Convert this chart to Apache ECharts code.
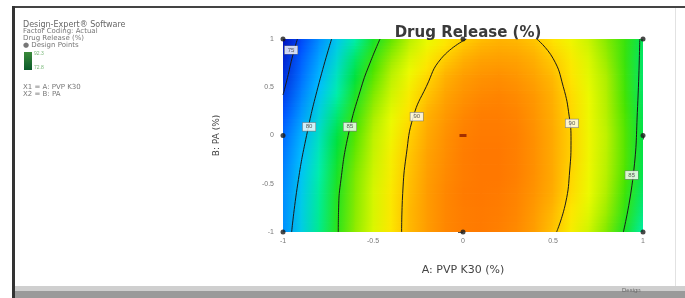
<!DOCTYPE html>
<html>
<head>
<meta charset="utf-8">
<script src="https://cdn.jsdelivr.net/npm/echarts@6/dist/echarts.min.js"></script>
<style>
  html, body { margin: 0; padding: 0; background: #fff; }
  #chart { width: 685px; height: 298px; }
</style>
</head>
<body>
<div id="chart"></div>
<script>
// coded factor levels (grid nodes) and axis ticks
var factorA = [-1, -0.9, -0.8, -0.7, -0.6, -0.5, -0.4, -0.3, -0.2, -0.1, 0, 0.1, 0.2, 0.3, 0.4, 0.5, 0.6, 0.7, 0.8, 0.9, 1];
var factorB = [-1, -0.8, -0.6, -0.4, -0.2, 0, 0.2, 0.4, 0.6, 0.8, 1];

// drug release (%), one row per B level (bottom to top)
var release = [
  [78.3, 80.7, 82.9, 84.9, 86.6, 88.1, 89.4, 90.4, 91.2, 91.8, 92.1, 92.2, 92.0, 91.7, 91.1, 90.2, 89.1, 87.8, 86.3, 84.5, 82.5],
  [78.2, 80.7, 82.8, 84.8, 86.5, 88.0, 89.3, 90.4, 91.2, 91.8, 92.1, 92.2, 92.1, 91.8, 91.2, 90.4, 89.4, 88.2, 86.7, 85.0, 83.0],
  [78.1, 80.5, 82.7, 84.7, 86.4, 88.0, 89.3, 90.3, 91.2, 91.8, 92.2, 92.3, 92.2, 91.9, 91.4, 90.7, 89.7, 88.5, 87.0, 85.3, 83.4],
  [77.8, 80.3, 82.5, 84.5, 86.3, 87.8, 89.1, 90.2, 91.1, 91.7, 92.1, 92.3, 92.3, 92.0, 91.5, 90.8, 89.8, 88.6, 87.2, 85.6, 83.7],
  [77.4, 79.9, 82.2, 84.2, 86.0, 87.6, 89.0, 90.1, 91.0, 91.6, 92.1, 92.3, 92.3, 92.0, 91.5, 90.8, 89.9, 88.7, 87.3, 85.7, 83.8],
  [76.9, 79.5, 81.8, 83.9, 85.7, 87.4, 88.7, 89.9, 90.8, 91.5, 92.0, 92.2, 92.2, 92.0, 91.5, 90.8, 89.9, 88.7, 87.4, 85.7, 83.9],
  [76.1, 78.7, 81.1, 83.3, 85.2, 86.9, 88.4, 89.6, 90.6, 91.3, 91.8, 92.1, 92.1, 91.9, 91.4, 90.7, 89.8, 88.6, 87.2, 85.6, 83.7],
  [75.1, 77.9, 80.4, 82.6, 84.6, 86.4, 87.9, 89.2, 90.2, 91.0, 91.5, 91.8, 91.9, 91.7, 91.3, 90.6, 89.7, 88.5, 87.1, 85.4, 83.5],
  [74.3, 77.1, 79.7, 82.0, 84.0, 85.8, 87.4, 88.7, 89.8, 90.6, 91.2, 91.5, 91.6, 91.4, 91.0, 90.4, 89.5, 88.3, 87.0, 85.3, 83.4],
  [73.7, 76.5, 79.0, 81.3, 83.4, 85.2, 86.7, 88.1, 89.2, 90.0, 90.6, 91.0, 91.1, 91.0, 90.6, 90.0, 89.2, 88.1, 86.7, 85.2, 83.4],
  [72.8, 75.6, 78.2, 80.5, 82.5, 84.4, 85.9, 87.3, 88.4, 89.3, 89.9, 90.3, 90.5, 90.4, 90.1, 89.5, 88.7, 87.7, 86.4, 85.2, 83.6]
];

// contour lines [A, B]
var contour75 = [[-0.92, 1], [-0.95, 0.8], [-0.975, 0.6], [-1, 0.42]];
var contour80 = [[-0.952, -1], [-0.918, -0.5], [-0.869, 0], [-0.806, 0.5], [-0.73, 1]];
var contour85L = [[-0.693, -1], [-0.691, -0.75], [-0.681, -0.5], [-0.638, 0], [-0.565, 0.5], [-0.517, 0.75], [-0.461, 1]];
var contour90L = [[-0.341, -1], [-0.335, -0.6], [-0.315, -0.2], [-0.276, 0.195], [-0.204, 0.506], [-0.12, 0.8], [0.019, 1]];
var contour90R = [[0.41, 1], [0.5, 0.8], [0.557, 0.506], [0.59, 0.2], [0.6, -0.05], [0.593, -0.358], [0.57, -0.7], [0.52, -1]];
var contour85R = [[0.891, -1], [0.946, -0.41], [0.97, 0.3], [0.982, 1]];
var contourLabels = [[-0.955, 0.886, '75'], [-0.855, 0.09, '80'], [-0.628, 0.09, '85'], [-0.257, 0.195, '90'], [0.605, 0.126, '90'], [0.937, -0.41, '85']];

// design points
var designPoints = [[-1, -1], [0, -1], [1, -1], [1, 0], [1, 1], [-1, 1], [-1, 0], [0, 1]];
var centerPoint = [[0, 0]];

// colour ramp (value, rgb)
var stops = [
  [72, [0, 0, 170]], [76, [0, 80, 255]], [80, [0, 190, 255]], [82.5, [0, 238, 170]],
  [84, [0, 225, 60]], [85.5, [70, 228, 0]], [87, [170, 238, 0]], [88.5, [235, 250, 0]],
  [89.5, [255, 228, 0]], [90.5, [255, 180, 0]], [92, [255, 128, 0]], [93, [255, 100, 0]]
];
function colorOf(v) {
  var c = stops[stops.length - 1][1];
  if (v <= stops[0][0]) c = stops[0][1];
  for (var i = 1; i < stops.length; i++) {
    if (v > stops[i - 1][0] && v <= stops[i][0]) {
      var t = (v - stops[i - 1][0]) / (stops[i][0] - stops[i - 1][0]);
      var a = stops[i - 1][1], b = stops[i][1];
      c = [a[0] + (b[0] - a[0]) * t, a[1] + (b[1] - a[1]) * t, a[2] + (b[2] - a[2]) * t];
      break;
    }
  }
  return 'rgb(' + Math.round(c[0]) + ',' + Math.round(c[1]) + ',' + Math.round(c[2]) + ')';
}

// one cell between neighbouring grid nodes
var cells = [];
for (var j = 0; j < factorB.length - 1; j++) {
  for (var i = 0; i < factorA.length - 1; i++) {
    cells.push([factorA[i], factorA[i + 1], factorB[j], factorB[j + 1],
      release[j][i], release[j][i + 1], release[j + 1][i], release[j + 1][i + 1]]);
  }
}

function contourSeries(pts) {
  return {
    type: 'line', data: pts, smooth: true, symbol: 'none', silent: true,
    lineStyle: { color: '#1a1a1a', width: 1 }, z: 3
  };
}

var chart = echarts.init(document.getElementById('chart'));
var option = {
  animation: false,
  title: {
    text: 'Drug Release (%)', left: 463, top: 21, textAlign: 'center',
    textStyle: { fontFamily: 'DejaVu Sans', fontSize: 15, fontWeight: 'bold', color: '#3a3a3a' }
  },
  grid: { left: 283, right: 42, top: 39, bottom: 66 },
  xAxis: {
    type: 'value', min: -1, max: 1, interval: 0.5,
    name: 'A: PVP K30 (%)', nameLocation: 'middle', nameGap: 33,
    nameTextStyle: { fontFamily: 'DejaVu Sans', fontSize: 11, color: '#444' },
    axisLine: { show: false }, splitLine: { show: false },
    axisTick: { show: true, length: 4, lineStyle: { color: '#555' } },
    axisLabel: { fontSize: 7, color: '#777', margin: 6 }
  },
  yAxis: {
    type: 'value', min: -1, max: 1, interval: 0.5,
    name: 'B: PA (%)', nameLocation: 'middle', nameGap: 62,
    nameTextStyle: { fontFamily: 'DejaVu Sans', fontSize: 9, color: '#444' },
    axisLine: { show: false }, splitLine: { show: false },
    axisTick: { show: true, length: 5, lineStyle: { color: '#555' } },
    axisLabel: { fontSize: 7, color: '#777', margin: 9 }
  },
  series: [
    {
      type: 'custom', data: cells, clip: true, silent: true, z: 1,
      encode: { x: [0, 1], y: [2, 3] },
      renderItem: function (params, api) {
        var x0 = api.value(0), x1 = api.value(1), y0 = api.value(2), y1 = api.value(3);
        var bl = api.value(4), br = api.value(5), tl = api.value(6), tr = api.value(7);
        var slices = 6, children = [];
        for (var s = 0; s < slices; s++) {
          var f = (s + 0.5) / slices;
          var lo = y0 + (y1 - y0) * s / slices, hi = y0 + (y1 - y0) * (s + 1) / slices;
          var p0 = api.coord([x0, hi]), p1 = api.coord([x1, lo]);
          var left = bl + (tl - bl) * f, right = br + (tr - br) * f;
          children.push({
            type: 'rect',
            shape: { x: p0[0] - 0.3, y: p0[1] - 0.3, width: p1[0] - p0[0] + 0.8, height: p1[1] - p0[1] + 0.8 },
            style: {
              fill: new echarts.graphic.LinearGradient(0, 0, 1, 0, [
                { offset: 0, color: colorOf(left) },
                { offset: 1, color: colorOf(right) }
              ])
            }
          });
        }
        return { type: 'group', children: children };
      }
    },
    contourSeries(contour75),
    contourSeries(contour80),
    contourSeries(contour85L),
    contourSeries(contour90L),
    contourSeries(contour90R),
    contourSeries(contour85R),
    {
      type: 'scatter', data: designPoints, symbolSize: 5, z: 4, silent: true,
      itemStyle: { color: '#1a1a1a' }
    },
    {
      type: 'scatter', data: centerPoint, symbol: 'rect', symbolSize: [7, 3], z: 4, silent: true,
      itemStyle: { color: '#8c1a00' }
    },
    {
      type: 'scatter', data: contourLabels, symbolSize: 1, z: 5, silent: true,
      itemStyle: { color: 'transparent' },
      label: {
        show: true, position: 'inside',
        formatter: function (p) { return p.value[2]; },
        fontSize: 6, color: '#333', backgroundColor: '#fff',
        borderColor: '#777', borderWidth: 0.6, padding: [1, 3]
      }
    }
  ],
  graphic: [
    // frame
    { type: 'rect', shape: { x: 12, y: 6, width: 673, height: 2 }, style: { fill: '#444' }, silent: true },
    { type: 'rect', shape: { x: 12, y: 6, width: 3, height: 292 }, style: { fill: '#333' }, silent: true },
    { type: 'rect', shape: { x: 15, y: 286, width: 670, height: 5 }, style: { fill: '#cfcfcf' }, silent: true },
    { type: 'rect', shape: { x: 15, y: 291, width: 670, height: 7 }, style: { fill: '#9a9a9a' }, silent: true },
    { type: 'rect', shape: { x: 675, y: 8, width: 1, height: 278 }, style: { fill: '#e2e2e2' }, silent: true },
    // software notes
    { type: 'text', left: 23, top: 21, style: { text: 'Design-Expert® Software', fontSize: 8, fill: '#666', fontFamily: 'DejaVu Sans' } },
    { type: 'text', left: 23, top: 28, style: { text: 'Factor Coding: Actual', fontSize: 7, fill: '#777', fontFamily: 'DejaVu Sans' } },
    { type: 'text', left: 23, top: 35, style: { text: 'Drug Release (%)', fontSize: 7, fill: '#777', fontFamily: 'DejaVu Sans' } },
    { type: 'text', left: 23, top: 42, style: { text: '● Design Points', fontSize: 7, fill: '#777', fontFamily: 'DejaVu Sans' } },
    {
      type: 'rect', shape: { x: 24, y: 52, width: 8, height: 18 },
      style: { fill: new echarts.graphic.LinearGradient(0, 0, 0, 1, [{ offset: 0, color: '#3a8a3a' }, { offset: 1, color: '#0a5a2a' }]) }
    },
    { type: 'text', left: 34, top: 51, style: { text: '92.3', fontSize: 5, fill: '#7ab87a' } },
    { type: 'text', left: 34, top: 65, style: { text: '72.8', fontSize: 5, fill: '#7ab87a' } },
    { type: 'text', left: 23, top: 84, style: { text: 'X1 = A: PVP K30', fontSize: 7, fill: '#777', fontFamily: 'DejaVu Sans' } },
    { type: 'text', left: 23, top: 91, style: { text: 'X2 = B: PA', fontSize: 7, fill: '#777', fontFamily: 'DejaVu Sans' } },
    { type: 'text', left: 622, top: 287, style: { text: 'Design', fontSize: 6, fill: '#666' } }
  ]
};
chart.setOption(option);
</script>
</body>
</html>
